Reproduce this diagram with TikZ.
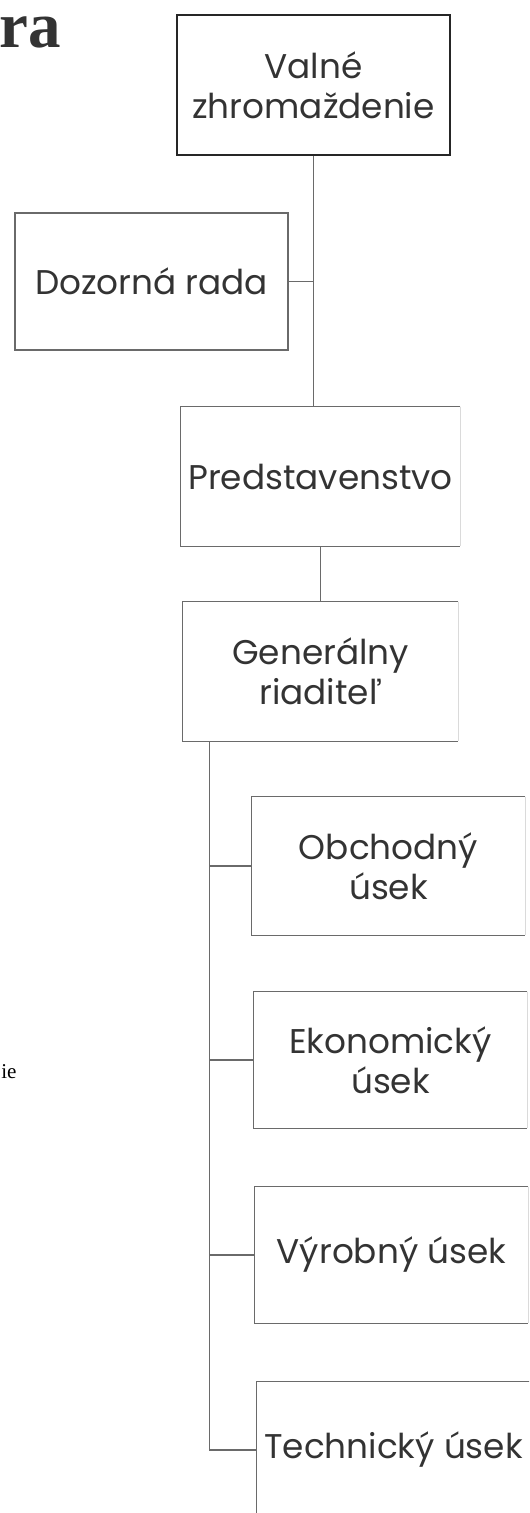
\documentclass[tikz,border=0pt]{standalone}
\usepackage{fontspec}
\setmainfont{Poppins}
\newfontfamily\titlefont{Liberation Serif}
\usetikzlibrary{positioning}

\definecolor{linegray}{HTML}{6A6A6A}
\definecolor{textgray}{HTML}{333333}

\tikzset{
  unit/.style={inner sep=0pt, align=center, text=textgray,
    font=\fontsize{19.5}{23}\selectfont,
    minimum width=5.46cm, minimum height=2.76cm},
  frame/.style={draw=linegray, line width=0.8pt},
  faint/.style={draw=linegray!25, line width=0.5pt},
  link/.style={draw=linegray, line width=0.8pt}
}

\begin{document}
\begin{tikzpicture}[x=0.02cm,y=-0.02cm]
	  \useasboundingbox (0,0) rectangle (529,1513);
	  \clip (0,0) rectangle (529,1513);

	  % cut title and margin note of the scanned page
	  \node[anchor=base west,inner sep=0pt,font=\titlefont\bfseries\fontsize{37}{37}\selectfont,text=black!80] (title) at (-1,48) {ra};
	  \node[anchor=base west,inner sep=0pt,font=\titlefont\fontsize{12}{12}\selectfont] (note) at (1,1078) {ie};

	  \node[unit,draw=black!85,line width=1.3pt,minimum height=2.8cm] (valne) at (313.5,85) {Valné\\zhromaždenie};
	  \node[unit,frame,minimum height=2.74cm] (dozor) at (151.5,281.5) {Dozorná rada};
	  \node[unit,minimum width=5.58cm,minimum height=2.78cm] (pred) at (320.5,476.5) {Predstavenstvo};
	  \node[unit,minimum width=5.5cm,minimum height=2.78cm] (gen) at (320.5,671.5) {Generálny\\riaditeľ};
	  \node[unit] (obch) at (388.5,866) {Obchodný\\úsek};
	  \node[unit,minimum height=2.72cm] (ekon) at (390.5,1060) {Ekonomický\\úsek};
	  \node[unit,minimum height=2.72cm] (vyrob) at (391.5,1255) {Výrobný úsek};
	  \node[unit,minimum height=2.72cm] (tech) at (393.5,1450) {Technický úsek};

	  % boxes with a faded right side
	  \foreach \n in {pred,gen,obch,ekon,vyrob,tech} {
	    \draw[frame] (\n.north east) -- (\n.north west) -- (\n.south west) -- (\n.south east);
	    \draw[faint] (\n.north east) -- (\n.south east);
	  }

	  \draw[link] (valne.south) -- (valne.south |- pred.north);
	  \draw[link] (dozor.east) -- (dozor.east -| valne.south);
	  \draw[link] (pred.south) -- (pred.south |- gen.north);

	  \coordinate (trunk) at ([xshift=0.54cm]gen.south west);
	  \draw[link] (trunk) |- (tech.west);
	  \foreach \n in {obch,ekon,vyrob}
	    \draw[link] (trunk |- \n.west) -- (\n.west);
	\end{tikzpicture}
\end{document}
